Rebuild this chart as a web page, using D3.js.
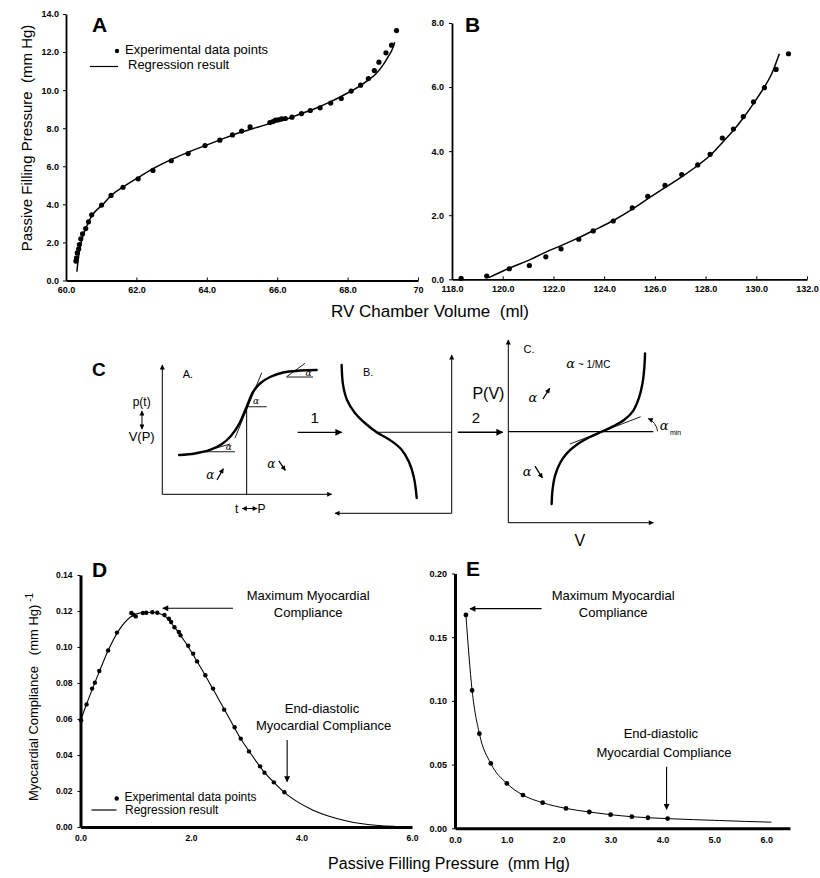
<!DOCTYPE html>
<html>
<head>
<meta charset="utf-8">
<script src="https://cdn.jsdelivr.net/npm/d3@7"></script>
<style>
  body { margin: 0; background: #fff; }
  svg { display: block; font-family: "Liberation Sans", Arial, sans-serif; }
</style>
</head>
<body>
<div id="fig"></div>
<script>
// ---- panel A : pressure vs volume (ml), dots + regression
const aVol  = [60.28,60.30,60.32,60.36,60.38,60.42,60.47,60.56,60.64,60.73,61.01,61.28,61.62,62.05,62.47,62.99,63.47,63.95,64.37,64.73,64.99,65.23,65.79,65.88,65.95,66.03,66.12,66.23,66.42,66.69,66.94,67.22,67.52,67.82,68.10,68.37,68.59,68.76,68.89,69.09,69.25,69.39];
const aPres = [1.02,1.19,1.45,1.66,1.89,2.19,2.45,2.73,3.08,3.45,3.96,4.47,4.90,5.34,5.78,6.29,6.67,7.09,7.37,7.65,7.85,8.07,8.30,8.35,8.42,8.44,8.49,8.51,8.58,8.77,8.93,9.07,9.32,9.56,9.95,10.26,10.61,11.03,11.47,11.96,12.36,13.13];
const aFitVol  = [60.31,60.34,60.38,60.43,60.50,60.60,60.73,60.87,61.02,61.30,61.65,62.10,62.50,63.03,63.50,63.97,64.45,64.92,65.40,65.86,66.30,66.61,67.10,67.55,68.00,68.31,68.60,68.80,69.00,69.15,69.27,69.34];
const aFitPres = [0.46,1.00,1.55,2.00,2.45,2.90,3.40,3.70,3.95,4.50,4.95,5.46,5.90,6.39,6.76,7.10,7.44,7.76,8.03,8.28,8.50,8.72,9.05,9.42,9.85,10.17,10.55,10.85,11.30,11.75,12.15,12.52];
const aTicksX = [60,62,64,66,68,70];
const aTickLabelsX = ["60.0","62.0","64.0","66.0","68.0","70"];
const aTicksY = [0,2,4,6,8,10,12,14];

// ---- panel B
const bVol  = [118.36,119.37,120.26,121.05,121.70,122.30,123.00,123.57,124.36,125.11,125.72,126.40,127.06,127.69,128.18,128.66,129.10,129.49,129.89,130.32,130.78,131.27];
const bPres = [0.03,0.10,0.33,0.43,0.70,0.95,1.25,1.51,1.82,2.23,2.59,2.93,3.27,3.57,3.90,4.41,4.69,5.08,5.54,5.98,6.55,7.04];
const bFitVol  = [119.45,120.3,121.1,121.7,122.3,123.0,123.6,124.4,125.1,125.7,126.4,127.1,127.7,128.2,128.7,129.1,129.5,129.9,130.3,130.6,130.91];
const bFitPres = [0.05,0.36,0.62,0.85,1.05,1.30,1.53,1.85,2.18,2.50,2.86,3.22,3.56,3.88,4.30,4.65,5.05,5.50,5.98,6.40,7.04];
const bTicksX = [118,120,122,124,126,128,130,132];
const bTicksY = [0,2,4,6,8];

// ---- panel D : compliance vs pressure
const dPres = [0.01,0.11,0.21,0.26,0.34,0.50,0.66,0.92,0.96,1.00,1.13,1.19,1.30,1.39,1.52,1.60,1.64,1.70,1.78,1.81,1.95,2.04,2.11,2.26,2.40,2.60,2.79,2.90,3.05,3.25,3.33,3.50,3.69];
const dComp = [0.0593,0.0681,0.0769,0.0802,0.0867,0.0981,0.1080,0.1189,0.1180,0.1170,0.1189,0.1190,0.1193,0.1190,0.1178,0.1157,0.1139,0.1110,0.1083,0.1065,0.1007,0.0963,0.0920,0.0843,0.0769,0.0652,0.0554,0.0491,0.0420,0.0337,0.0302,0.0248,0.0193];
const dFitPres = [0,0.1,0.2,0.35,0.5,0.7,0.9,1.1,1.3,1.5,1.7,1.9,2.1,2.3,2.5,2.7,2.9,3.1,3.3,3.5,3.7,3.9,4.2,4.5,4.8,5.1,5.4,5.7,6.0];
const dFitComp = [0.059,0.0675,0.0755,0.087,0.098,0.1095,0.1165,0.1190,0.1193,0.1178,0.1110,0.1025,0.0925,0.082,0.071,0.060,0.049,0.040,0.0315,0.0248,0.019,0.0145,0.0095,0.006,0.0035,0.0018,0.0008,0.0003,0.0];
const dTicksX = [0,2,4,6];
const dTicksY = [0,0.02,0.04,0.06,0.08,0.10,0.12,0.14];

// ---- panel E
const ePres = [0.21,0.33,0.47,0.69,1.00,1.31,1.69,2.14,2.59,3.00,3.41,3.72,4.10];
const eComp = [0.1675,0.1082,0.0743,0.0509,0.0352,0.0261,0.0201,0.0156,0.0128,0.0107,0.0091,0.0083,0.0076];
const eFitPres = [0.21,0.33,0.47,0.69,1.00,1.31,1.69,2.14,2.59,3.00,3.41,3.72,4.10,4.60,5.10,5.60,6.10];
const eFitComp = [0.1675,0.1082,0.0743,0.0509,0.0352,0.0261,0.0201,0.0156,0.0128,0.0107,0.0091,0.0083,0.0076,0.0068,0.0061,0.0054,0.0048];
const eTicksX = [0,1,2,3,4,5,6];
const eTicksY = [0,0.05,0.10,0.15,0.20];

// ---- panel C : schematic shapes, each in its own 0..10 frame
const cCurveA = [[0.99,3.04],[1.93,3.16],[2.82,3.43],[3.52,3.89],[4.05,4.51],[4.53,5.43],[4.98,6.77],[5.35,7.91],[5.77,8.57],[6.36,9.07],[7.13,9.42],[8.13,9.57],[9.11,9.61]];
const cCurveB = [[9.43,9.37],[9.31,8.11],[8.97,7.16],[8.29,6.34],[7.34,5.64],[6.43,5.12],[5.29,4.63],[4.34,4.06],[3.66,3.24],[3.23,2.23],[3.00,0.97]];
const cCurveC = [[2.99,1.02],[3.05,1.79],[3.22,2.56],[3.57,3.27],[4.05,3.81],[4.74,4.28],[5.63,4.69],[6.44,4.98],[7.22,5.27],[7.98,5.62],[8.60,6.11],[9.01,6.83],[9.26,7.65],[9.38,8.47],[9.43,9.27]];

const svg = d3.select("#fig").append("svg").attr("width", 820).attr("height", 878);
const defs = svg.append("defs");
function marker(id, w, h) {
  defs.append("marker").attr("id", id).attr("viewBox", "0 0 10 10")
    .attr("refX", 9).attr("refY", 5).attr("markerUnits", "userSpaceOnUse")
    .attr("markerWidth", w).attr("markerHeight", h).attr("orient", "auto")
    .append("path").attr("d", "M0,0 L10,5 L0,10 z").attr("fill", "#000");
}
marker("big", 13, 7);
marker("mid", 11, 6);
marker("small", 7, 5);

function axes(x, y, o) {
  const gx = svg.append("g").attr("transform", `translate(0,${y.range()[0]})`)
    .call(d3.axisBottom(x).tickValues(o.xt).tickFormat(o.xf).tickSize(o.xts).tickSizeOuter(0).tickPadding(o.xpad));
  const gy = svg.append("g").attr("transform", `translate(${x.range()[0]},0)`)
    .call(d3.axisLeft(y).tickValues(o.yt).tickFormat(o.yf).tickSize(3).tickSizeOuter(0).tickPadding(o.ypad));
  [gx, gy].forEach(g => {
    g.attr("font-family", "Liberation Sans, Arial, sans-serif").attr("font-size", o.fs).attr("font-weight", "bold");
    g.select(".domain").attr("stroke-width", o.sw);
    g.selectAll(".tick line").attr("stroke-width", 1);
  });
  return [gx, gy];
}
function dots(x, y, xs, ys, r) {
  svg.append("g").selectAll("circle").data(xs).join("circle")
    .attr("cx", d => x(d)).attr("cy", (d, i) => y(ys[i])).attr("r", r).attr("fill", "#000");
}
function fit(x, y, xs, ys, w) {
  svg.append("path").datum(xs)
    .attr("d", d3.line().x(d => x(d)).y((d, i) => y(ys[i])).curve(d3.curveMonotoneX))
    .attr("fill", "none").attr("stroke", "#000").attr("stroke-width", w);
}
function txt(x, y, s, o = {}) {
  return svg.append("text").attr("x", x).attr("y", y).text(s)
    .attr("font-size", o.fs || 13).attr("font-weight", o.fw || "normal")
    .attr("text-anchor", o.anchor || "start")
    .attr("font-family", o.ff || "Liberation Sans, Arial, sans-serif")
    .attr("font-style", o.it ? "italic" : "normal");
}
function arrow(x1, y1, x2, y2, m, w) {
  svg.append("line").attr("x1", x1).attr("y1", y1).attr("x2", x2).attr("y2", y2)
    .attr("stroke", "#000").attr("stroke-width", w || 1).attr("marker-end", m ? `url(#${m})` : null);
}

// ===== A =====
const xA = d3.scaleLinear().domain([60, 70]).range([66, 418]);
const yA = d3.scaleLinear().domain([0, 14]).range([280.5, 14]);
axes(xA, yA, { xt: aTicksX, xf: (d, i) => aTickLabelsX[i], yt: aTicksY, yf: d3.format(".1f"), xts: -3, xpad: 6, ypad: 4, fs: 9, sw: 1.8 });
fit(xA, yA, aFitVol, aFitPres, 1.5);
dots(xA, yA, aVol, aPres, 2.6);
txt(92, 32, "A", { fs: 21, fw: "bold" });
svg.append("circle").attr("cx", 117).attr("cy", 51).attr("r", 2.2);
txt(125, 53.5, "Experimental data points", { fs: 13 });
arrow(90, 66.5, 118, 66.5, null, 1.2);
txt(128, 68.5, "Regression result", { fs: 13 });
txt(27, 138, "Passive Filling Pressure  (mm Hg)", { fs: 15, anchor: "middle" })
  .attr("transform", "rotate(-90,27,138)").attr("dy", "0.35em").style("white-space", "pre");

// ===== B =====
const xB = d3.scaleLinear().domain([118, 132]).range([452, 807]);
const yB = d3.scaleLinear().domain([0, 8]).range([279.3, 23]);
axes(xB, yB, { xt: bTicksX, xf: d3.format(".1f"), yt: bTicksY, yf: d3.format(".1f"), xts: -3, xpad: 6, ypad: 5, fs: 9, sw: 1.8 });
fit(xB, yB, bFitVol, bFitPres, 1.5);
dots(xB, yB, bVol, bPres, 2.6);
txt(465, 32, "B", { fs: 21, fw: "bold" });
txt(430, 317, "RV Chamber Volume  (ml)", { fs: 17, anchor: "middle" }).style("white-space", "pre");

// ===== C (schematic) =====
function frame(x0, y0, x1, y1) {
  return { x: d3.scaleLinear().domain([0, 10]).range([x0, x1]), y: d3.scaleLinear().domain([0, 10]).range([y0, y1]) };
}
const fA = frame(162.3, 494.3, 331.7, 365);
const fB = frame(451.7, 513.3, 335, 355);
const fC = frame(508.3, 522.7, 653.3, 340);
function fl(f, a, b, w, m) { arrow(f.x(a[0]), f.y(a[1]), f.x(b[0]), f.y(b[1]), m, w); }
function fcurve(f, pts, w) {
  svg.append("path").datum(pts)
    .attr("d", d3.line().x(d => f.x(d[0])).y(d => f.y(d[1])).curve(d3.curveCatmullRom))
    .attr("fill", "none").attr("stroke", "#000").attr("stroke-width", w).attr("stroke-linecap", "round");
}
function ft(f, p, s, o) { return txt(f.x(p[0]), f.y(p[1]), s, o); }
const alpha = { ff: "DejaVu Serif, serif", it: true };

txt(92, 376, "C", { fs: 19, fw: "bold" });
// sub-panel A.
fl(fA, [0, 0], [0, 10], 1, "small");
fl(fA, [0, 0], [10, 0], 1, "small");
fcurve(fA, cCurveA, 2.4);
fl(fA, [4.98, 0], [4.98, 6.77], 1);
fl(fA, [4.29, 4.35], [5.87, 9.40], 0.9);
fl(fA, [4.98, 6.77], [6.16, 6.77], 0.9);
fl(fA, [7.34, 9.09], [8.42, 10.13], 0.9);
fl(fA, [7.34, 9.07], [8.9, 9.07], 0.9);
fl(fA, [2.42, 3.29], [4.0, 3.89], 0.9);
fl(fA, [2.42, 3.29], [4.29, 3.29], 0.9);
ft(fA, [5.35, 6.95], "α", { fs: 9, ...alpha });
ft(fA, [8.45, 9.15], "α", { fs: 9, ...alpha });
ft(fA, [3.75, 3.4], "α", { fs: 9, ...alpha });
ft(fA, [1.2, 9.0], "A.", { fs: 11 });
ft(fA, [-1.22, 6.8], "p(t)", { fs: 12, anchor: "middle" });
ft(fA, [-1.22, 4.1], "V(P)", { fs: 13, anchor: "middle" });
fl(fA, [-1.2, 5.75], [-1.2, 6.45], 1, "small");
fl(fA, [-1.2, 5.75], [-1.2, 5.05], 1, "small");
ft(fA, [2.6, 1.2], "α", { fs: 12, ...alpha });
fl(fA, [3.23, 1.11], [3.6, 1.98], 1.3, "small");
ft(fA, [6.2, 2.0], "α", { fs: 12, ...alpha });
fl(fA, [6.88, 2.58], [7.26, 1.85], 1.3, "small");
ft(fA, [4.29, -1.45], "t", { fs: 12 });
fl(fA, [5.2, -1.1], [4.72, -1.1], 1, "small");
fl(fA, [5.1, -1.1], [5.6, -1.1], 1, "small");
ft(fA, [5.62, -1.45], "P", { fs: 12 });
fl(fA, [7.99, 4.79], [10.59, 4.79], 1.3, "big");
ft(fA, [9.0, 5.55], "1", { fs: 15, anchor: "middle" });
// sub-panel B.
fl(fB, [0, 0], [0, 10], 1, "small");
fl(fB, [0, 0], [10, 0], 1, "small");
fcurve(fB, cCurveB, 2.4);
fl(fB, [6.43, 5.12], [0, 5.12], 1);
ft(fB, [7.6, 8.65], "B.", { fs: 11 });
// sub-panel C.
fl(fC, [0, 0], [0, 10], 1, "small");
fl(fC, [0, 0], [10, 0], 1, "small");
fl(fC, [0, 4.98], [10, 4.98], 1.2);
fcurve(fC, cCurveC, 2.4);
fl(fC, [4.26, 4.31], [9.13, 5.80], 0.9);
svg.append("path")
  .attr("d", `M${fC.x(10.3)},${fC.y(5.0)} Q${fC.x(10.2)},${fC.y(5.5)} ${fC.x(9.65)},${fC.y(5.7)}`)
  .attr("fill", "none").attr("stroke", "#000").attr("stroke-width", 0.9).attr("marker-end", "url(#small)");
ft(fC, [10.45, 5.05], "α", { fs: 13, ...alpha });
ft(fC, [11.15, 4.78], "min", { fs: 7 });
ft(fC, [1.05, 9.3], "C.", { fs: 11 });
ft(fC, [4.0, 8.45], "α", { fs: 13, ...alpha });
ft(fC, [4.8, 8.45], "~ 1/MC", { fs: 10 });
ft(fC, [1.4, 6.6], "α", { fs: 13, ...alpha });
fl(fC, [2.39, 6.77], [2.85, 7.35], 1.3, "small");
ft(fC, [1.0, 2.55], "α", { fs: 13, ...alpha });
fl(fC, [1.84, 3.10], [2.35, 2.45], 1.3, "small");
ft(fC, [-1.37, 6.75], "P(V)", { fs: 16, anchor: "middle" });
ft(fC, [4.94, -1.25], "V", { fs: 16, anchor: "middle" });
fl(fC, [-3.48, 4.95], [-0.39, 4.95], 1.3, "big");
ft(fC, [-2.23, 5.45], "2", { fs: 15, anchor: "middle" });

// ===== D =====
const xD = d3.scaleLinear().domain([0, 6]).range([80.5, 412]);
const yD = d3.scaleLinear().domain([0, 0.14]).range([827, 575]);
axes(xD, yD, { xt: dTicksX, xf: d3.format(".1f"), yt: dTicksY, yf: d3.format(".2f"), xts: 0, xpad: 8, ypad: 5, fs: 8.5, sw: 3 });
fit(xD, yD, dFitPres, dFitComp, 1.1);
dots(xD, yD, dPres, dComp, 2.2);
txt(92, 577, "D", { fs: 21, fw: "bold" });
txt(xD(4.12), yD(0.1261), "Maximum Myocardial", { anchor: "middle" });
txt(xD(4.12), yD(0.1167), "Compliance", { anchor: "middle" });
arrow(xD(2.76), yD(0.1215), xD(1.49), yD(0.1215), "mid", 1.1);
txt(xD(4.37), yD(0.0633), "End-diastolic", { anchor: "middle" });
txt(xD(4.40), yD(0.0539), "Myocardial Compliance", { anchor: "middle" });
arrow(xD(3.74), yD(0.0483), xD(3.74), yD(0.0252), "mid", 1.1);
svg.append("circle").attr("cx", 116.7).attr("cy", 798.5).attr("r", 2.2);
txt(124.5, 800.5, "Experimental data points", { fs: 12 });
arrow(91.5, 810, 116.5, 810, null, 1.2);
txt(125, 814, "Regression result", { fs: 12 });
const dTitle = txt(33, 697, "Myocardial Compliance   (mm Hg)", { fs: 13, anchor: "middle" })
  .attr("transform", "rotate(-90,33,697)").attr("dy", "0.35em").style("white-space", "pre");
dTitle.append("tspan").attr("baseline-shift", "super").attr("font-size", 10).text(" -1");

// ===== E =====
const xE = d3.scaleLinear().domain([0, 6.46]).range([455, 790]);
const yE = d3.scaleLinear().domain([0, 0.2]).range([828.3, 573.5]);
axes(xE, yE, { xt: eTicksX, xf: d3.format(".1f"), yt: eTicksY, yf: d3.format(".2f"), xts: 0, xpad: 8, ypad: 5, fs: 9, sw: 3 });
fit(xE, yE, eFitPres, eFitComp, 1);
dots(xE, yE, ePres, eComp, 2.4);
txt(466, 576, "E", { fs: 21, fw: "bold" });
txt(xE(3.05), yE(0.1792), "Maximum Myocardial", { anchor: "middle" });
txt(xE(3.05), yE(0.1661), "Compliance", { anchor: "middle" });
arrow(xE(1.67), yE(0.1724), xE(0.29), yE(0.1724), "mid", 1.1);
txt(xE(3.97), yE(0.0706), "End-diastolic", { anchor: "middle" });
txt(xE(4.03), yE(0.0562), "Myocardial Compliance", { anchor: "middle" });
arrow(xE(4.08), yE(0.0484), xE(4.08), yE(0.0149), "mid", 1.1);

txt(449, 869, "Passive Filling Pressure  (mm Hg)", { fs: 16, anchor: "middle" }).style("white-space", "pre");
</script>
</body>
</html>
